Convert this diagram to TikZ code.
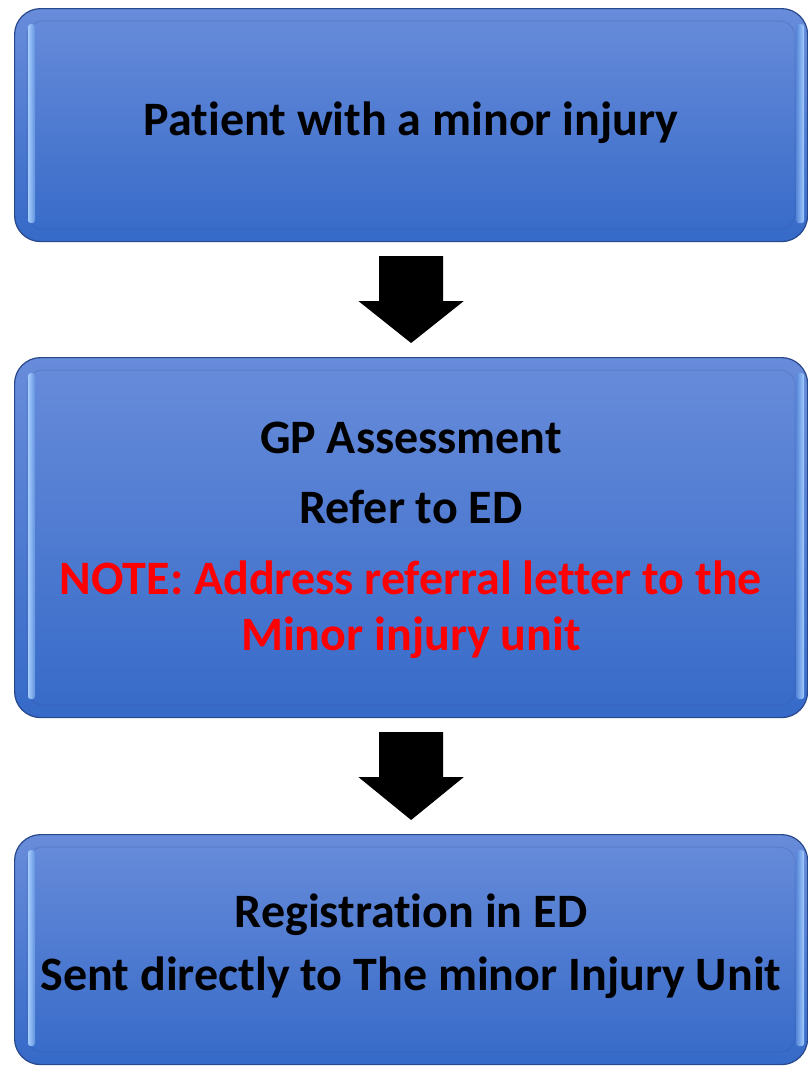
\documentclass[tikz,border=0pt]{standalone}
\usepackage{fontspec}
\setmainfont{Carlito}[Ligatures=NoCommon]
\usetikzlibrary{calc}
\definecolor{boxtop}{RGB}{104,140,218}
\definecolor{boxbot}{RGB}{54,106,200}
\definecolor{boxedge}{RGB}{40,72,140}
\definecolor{hilite}{RGB}{165,205,255}
\definecolor{notered}{RGB}{255,0,0}
\begin{document}
\begin{tikzpicture}[x=1pt,y=1pt,
  box/.style={draw=boxedge, line width=1.2pt, rounded corners=26pt,
    top color=boxtop, bottom color=boxbot, minimum width=793pt, inner sep=0pt, anchor=north west},
  inner/.style={draw=boxedge, draw opacity=0.2, line width=1pt, rounded corners=16pt},
  txt/.style={anchor=base, inner sep=0pt, font=\bfseries\fontsize{48}{56}\selectfont, text=black},
  redtxt/.style={txt, text=notered},
  barrow/.style={fill=black}]
\useasboundingbox (0,0) rectangle (808,-1066);
% boxes
\node[box, minimum height=233pt] (b1) at (14,-8) {};
\node[box, minimum height=360pt] (b2) at (14,-357) {};
\node[box, minimum height=230pt] (b3) at (14,-834) {};
% bevel details
\foreach \b in {b1,b2,b3}{
  \draw[inner] ($(\b.north west)+(13,-13)$) rectangle ($(\b.south east)+(-13,13)$);
  \shade[left color=hilite, right color=boxbot!60!hilite, rounded corners=3pt]
     ($(\b.north west)+(14,-16)$) rectangle ($(\b.south west)+(21,19)$);
  \shade[left color=boxbot!70!hilite, right color=hilite, rounded corners=3pt]
     ($(\b.north east)+(-12,-16)$) rectangle ($(\b.south east)+(-4,19)$);
}
% texts
\node[txt] (t1) at (411,-135) {Patient with a minor injury};
\node[txt] (t2) at (411,-453) {GP Assessment};
\node[txt] (t3) at (411,-523) {Refer to ED};
\node[redtxt] (t4) at (411,-594) {NOTE: Address referral letter to the};
\node[redtxt] (t5) at (411,-650) {Minor injury unit};
\node[txt] (t6) at (411,-927) {Registration in ED};
\node[txt] (t7) at (411,-990) {Sent directly to The minor Injury Unit};
% block arrows
\fill[barrow] ($(b1.south)+(-32,-14)$) -- ($(b1.south)+(32,-14)$) -- ($(b1.south)+(32,-59)$)
  -- ($(b1.south)+(52.5,-59)$) -- ($(b2.north)+(0,14)$) -- ($(b1.south)+(-52.5,-59)$)
  -- ($(b1.south)+(-32,-59)$) -- cycle;
\fill[barrow] ($(b2.south)+(-32,-14)$) -- ($(b2.south)+(32,-14)$) -- ($(b2.south)+(32,-59)$)
  -- ($(b2.south)+(52.5,-59)$) -- ($(b3.north)+(0,14)$) -- ($(b2.south)+(-52.5,-59)$)
  -- ($(b2.south)+(-32,-59)$) -- cycle;
\end{tikzpicture}
\end{document}
